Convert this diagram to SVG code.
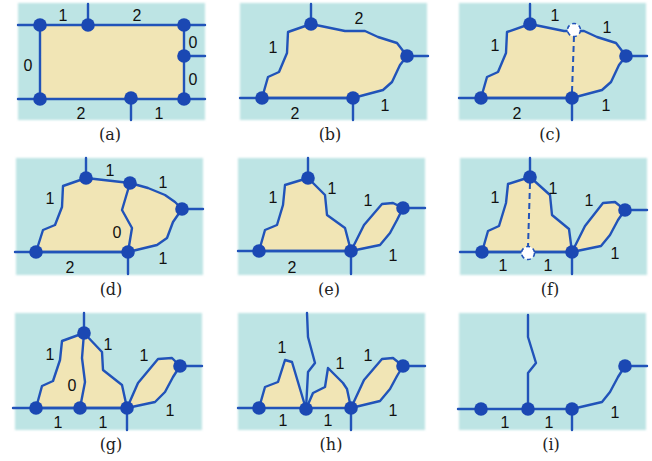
<svg xmlns="http://www.w3.org/2000/svg" width="652" height="461" viewBox="0 0 652 461">
<defs>
<filter id="soft" x="-5%" y="-5%" width="110%" height="110%"><feGaussianBlur stdDeviation="1.2"/></filter>
<style>
.bg{fill:#bde4e4;filter:url(#soft)}
.f{fill:#f1e5b5;stroke:none}
.e{fill:none;stroke:#2153b9;stroke-width:2.4;stroke-linejoin:round;stroke-linecap:round}
.dl{fill:none;stroke:#2153b9;stroke-width:2;stroke-dasharray:6 4}
.n{fill:#1b48b3}
.w{fill:#ffffff;stroke:#2153b9;stroke-width:1.6;stroke-dasharray:4 3}
.t{font-family:"Liberation Sans",Arial,sans-serif;font-size:16px;fill:#111;text-anchor:middle}
.c{font-family:"DejaVu Serif","Liberation Serif",serif;font-size:16px;fill:#222;text-anchor:middle}
</style>
</defs>
<rect width="652" height="461" fill="#ffffff"/>

<!-- (a) -->
<g id="panel-a" transform="translate(0,0)">
<rect class="bg" x="18" y="3" width="187" height="117"/>
<rect class="f" x="40" y="25" width="144" height="74"/>
<g id="edges-a">
<path class="e" d="M18 25H205M88 25V4M184 56H205M18 99H205M131 99V120M40 25V99M184 25V99"/>
</g>
<g id="nodes-a">
<circle class="n" cx="40" cy="25" r="6.8"/><circle class="n" cx="88" cy="25" r="6.8"/><circle class="n" cx="184" cy="25" r="6.8"/><circle class="n" cx="184" cy="56" r="6.8"/><circle class="n" cx="40" cy="99" r="6.8"/><circle class="n" cx="131" cy="98" r="6.8"/><circle class="n" cx="184" cy="99" r="6.8"/>
</g>
<text class="t" x="63" y="21">1</text><text class="t" x="137" y="21">2</text><text class="t" x="28" y="71">0</text><text class="t" x="193" y="48">0</text><text class="t" x="193" y="85">0</text><text class="t" x="81" y="119">2</text><text class="t" x="159" y="119">1</text>
</g>

<!-- (b) -->
<g id="panel-b" transform="translate(222,0)">
<rect class="bg" x="18" y="3" width="187" height="117"/>
<path class="f" d="M89 24L123 31L143 31L156 37L175 43L185 56L178 65L170 82L161 90L131 98L40 98L46 77L57 72L65 53L66 32Z"/>
<g id="edges-b">
<path class="e" d="M89 24L123 31L143 31L156 37L175 43L185 56L178 65L170 82L161 90L131 98L40 98L46 77L57 72L65 53L66 32Z"/>
<path class="e" d="M18 98H131M131 98V120M89 24V4M185 56H206"/>
</g>
<g id="nodes-b">
<circle class="n" cx="89" cy="24" r="6.8"/><circle class="n" cx="185" cy="56" r="6.8"/><circle class="n" cx="40" cy="98" r="6.8"/><circle class="n" cx="131" cy="98" r="6.8"/>
</g>
<text class="t" x="137" y="24">2</text><text class="t" x="51" y="53">1</text><text class="t" x="73" y="119">2</text><text class="t" x="163" y="111">1</text>
</g>

<!-- (c) -->
<g id="panel-c" transform="translate(441,0)">
<rect class="bg" x="18" y="3" width="187" height="117"/>
<path class="f" d="M89 24L123 31L143 31L156 37L175 43L185 56L178 65L170 82L161 90L131 98L40 98L46 77L57 72L65 53L66 32Z"/>
<g id="edges-c">
<path class="e" d="M89 24L123 31L143 31L156 37L175 43L185 56L178 65L170 82L161 90L131 98L40 98L46 77L57 72L65 53L66 32Z"/>
<path class="e" d="M18 98H131M131 98V120M89 24V4M185 56H206"/>
<path class="dl" d="M133 36L131 92"/>
</g>
<g id="nodes-c">
<circle class="n" cx="89" cy="24" r="6.8"/><circle class="n" cx="185" cy="56" r="6.8"/><circle class="n" cx="40" cy="98" r="6.8"/><circle class="n" cx="131" cy="98" r="6.8"/>
<circle class="w" cx="133" cy="30" r="6.5"/>
</g>
<text class="t" x="114" y="21">1</text><text class="t" x="166" y="33">1</text><text class="t" x="54" y="51">1</text><text class="t" x="76" y="119">2</text><text class="t" x="165" y="111">1</text>
</g>

<!-- (d) -->
<g id="panel-d" transform="translate(-2,155)">
<rect class="bg" x="18" y="3" width="187" height="117"/>
<path class="f" d="M88 23L132 28L150 33L167 40L177 47L184 54L175 67L169 83L159 90L130 97L38 97L45 75L57 70L64 52L65 31Z"/>
<g id="edges-d">
<path class="e" d="M88 23L132 28L150 33L167 40L177 47L184 54L175 67L169 83L159 90L130 97L38 97L45 75L57 70L64 52L65 31Z"/>
<path class="e" d="M132 28L124 55L134 73L130 97"/>
<path class="e" d="M17 97H130M130 97V119M88 23V3M184 54H205"/>
</g>
<g id="nodes-d">
<circle class="n" cx="38" cy="97" r="6.8"/><circle class="n" cx="88" cy="23" r="6.8"/><circle class="n" cx="132" cy="28" r="6.8"/><circle class="n" cx="184" cy="54" r="6.8"/><circle class="n" cx="130" cy="97" r="6.8"/>
</g>
<text class="t" x="112" y="21">1</text><text class="t" x="165" y="33">1</text><text class="t" x="52" y="49">1</text><text class="t" x="119" y="83">0</text><text class="t" x="72" y="118">2</text><text class="t" x="165" y="109">1</text>
</g>

<!-- (e) -->
<g id="panel-e" transform="translate(220,155)">
<rect class="bg" x="18" y="3" width="187" height="117"/>
<path class="f" d="M88 23L105 40L107 60L125 73L131 96L39 96L45 75L57 70L63 50L65 30Z"/>
<path class="f" d="M131 96L144 70L162 49L173 48L183 53L177 65L170 78L160 90Z"/>
<g id="edges-e">
<path class="e" d="M88 23L105 40L107 60L125 73L131 96L39 96L45 75L57 70L63 50L65 30Z"/>
<path class="e" d="M131 96L144 70L162 49L173 48L183 53L177 65L170 78L160 90Z"/>
<path class="e" d="M18 96H131M131 96V119M88 23V3M183 53H205"/>
</g>
<g id="nodes-e">
<circle class="n" cx="88" cy="23" r="6.8"/><circle class="n" cx="39" cy="96" r="6.8"/><circle class="n" cx="131" cy="96" r="6.8"/><circle class="n" cx="183" cy="53" r="6.8"/>
</g>
<text class="t" x="53" y="48">1</text><text class="t" x="112" y="39">1</text><text class="t" x="148" y="51">1</text><text class="t" x="72" y="118">2</text><text class="t" x="173" y="106">1</text>
</g>

<!-- (f) -->
<g id="panel-f" transform="translate(442,155)">
<rect class="bg" x="18" y="3" width="187" height="117"/>
<path class="f" d="M88 22L108 40L110 60L127 74L130 97L40 97L46 76L57 71L64 48L66 29Z"/>
<path class="f" d="M130 97L143 71L161 48L173 47L183 55L176 65L168 80L159 91Z"/>
<g id="edges-f">
<path class="e" d="M88 22L108 40L110 60L127 74L130 97L40 97L46 76L57 71L64 48L66 29Z"/>
<path class="e" d="M130 97L143 71L161 48L173 47L183 55L176 65L168 80L159 91Z"/>
<path class="e" d="M18 97H130M130 97V119M88 22V3M183 55H205"/>
<path class="dl" d="M88 28L86 92"/>
</g>
<g id="nodes-f">
<circle class="n" cx="88" cy="22" r="6.8"/><circle class="n" cx="40" cy="97" r="6.8"/><circle class="n" cx="130" cy="97" r="6.8"/><circle class="n" cx="183" cy="55" r="6.8"/>
<circle class="w" cx="86" cy="98" r="6.5"/>
</g>
<text class="t" x="53" y="48">1</text><text class="t" x="111" y="39">1</text><text class="t" x="147" y="51">1</text><text class="t" x="61" y="116">1</text><text class="t" x="106" y="116">1</text><text class="t" x="173" y="104">1</text>
</g>

<!-- (g) -->
<g id="panel-g" transform="translate(-3,310)">
<rect class="bg" x="18" y="3" width="187" height="117"/>
<path class="f" d="M87 23L105 42L106 60L125 75L130 98L39 98L45 76L56 71L63 50L65 31Z"/>
<path class="f" d="M130 98L141 73L161 49L175 48L183 56L176 67L168 82L158 92Z"/>
<g id="edges-g">
<path class="e" d="M87 23L105 42L106 60L125 75L130 98L39 98L45 76L56 71L63 50L65 31Z"/>
<path class="e" d="M87 23L85 48L88 72L83 98"/>
<path class="e" d="M130 98L141 73L161 49L175 48L183 56L176 67L168 82L158 92Z"/>
<path class="e" d="M16 98H130M130 98V120M87 23V3M183 56H205"/>
</g>
<g id="nodes-g">
<circle class="n" cx="87" cy="23" r="6.8"/><circle class="n" cx="39" cy="98" r="6.8"/><circle class="n" cx="83" cy="98" r="6.8"/><circle class="n" cx="130" cy="98" r="6.8"/><circle class="n" cx="183" cy="56" r="6.8"/>
</g>
<text class="t" x="53" y="50">1</text><text class="t" x="75" y="81">0</text><text class="t" x="111" y="40">1</text><text class="t" x="147" y="51">1</text><text class="t" x="61" y="118">1</text><text class="t" x="106" y="118">1</text><text class="t" x="173" y="106">1</text>
</g>

<!-- (h) -->
<g id="panel-h" transform="translate(220,310)">
<rect class="bg" x="18" y="3" width="187" height="117"/>
<path class="f" d="M39 98L45 77L58 72L65 50L72 52L86 99Z"/>
<path class="f" d="M86 99L93 83L105 77L108 58L114 64L123 73L127 79L131 98Z"/>
<path class="f" d="M131 98L144 70L162 49L173 48L183 56L177 66L170 79L160 91Z"/>
<g id="edges-h">
<path class="e" d="M39 98L45 77L58 72L65 50L72 52L86 99"/>
<path class="e" d="M86 99L93 83L105 77L108 58L114 64L123 73L127 79L131 98"/>
<path class="e" d="M131 98L144 70L162 49L173 48L183 56L177 66L170 79L160 91Z"/>
<path class="e" d="M87 3L88 27L95 53L88 62L86 99"/>
<path class="e" d="M18 98H131M131 98V120M183 56H205"/>
</g>
<g id="nodes-h">
<circle class="n" cx="39" cy="98" r="6.8"/><circle class="n" cx="86" cy="99" r="6.8"/><circle class="n" cx="131" cy="98" r="6.8"/><circle class="n" cx="183" cy="56" r="6.8"/>
</g>
<text class="t" x="62" y="43">1</text><text class="t" x="120" y="59">1</text><text class="t" x="148" y="51">1</text><text class="t" x="63" y="116">1</text><text class="t" x="108" y="116">1</text><text class="t" x="173" y="106">1</text>
</g>

<!-- (i) -->
<g id="panel-i" transform="translate(441,310)">
<rect class="bg" x="18" y="3" width="187" height="117"/>
<g id="edges-i">
<path class="e" d="M87 5L87 27L95 53L87 63L87 99"/>
<path class="e" d="M131 99L161 92L169 82L177 67L184 56"/>
<path class="e" d="M17 99H131M131 99V120M184 56H206"/>
</g>
<g id="nodes-i">
<circle class="n" cx="40" cy="99" r="6.8"/><circle class="n" cx="87" cy="99" r="6.8"/><circle class="n" cx="131" cy="99" r="6.8"/><circle class="n" cx="184" cy="56" r="6.8"/>
</g>
<text class="t" x="64" y="118">1</text><text class="t" x="108" y="118">1</text><text class="t" x="174" y="108">1</text>
</g>

<g id="captions">
<text class="c" x="110" y="140">(a)</text>
<text class="c" x="330" y="140">(b)</text>
<text class="c" x="550" y="140">(c)</text>
<text class="c" x="111" y="295">(d)</text>
<text class="c" x="329" y="295">(e)</text>
<text class="c" x="550" y="295">(f)</text>
<text class="c" x="111" y="450">(g)</text>
<text class="c" x="331" y="450">(h)</text>
<text class="c" x="551" y="450">(i)</text>
</g>
</svg>
